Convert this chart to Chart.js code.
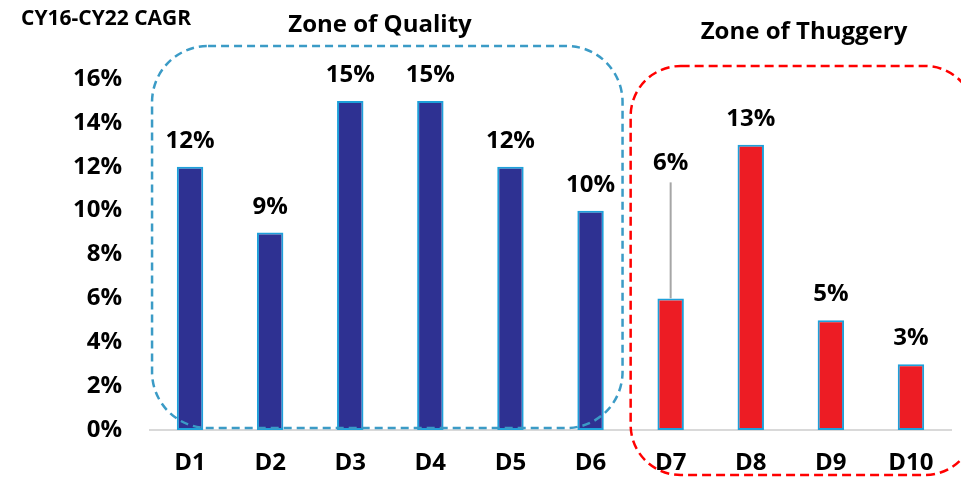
<!DOCTYPE html>
<html>
<head>
<meta charset="utf-8">
<script src="https://cdn.jsdelivr.net/npm/chart.js@4.4.0/dist/chart.umd.min.js"></script>
<style>
  body { margin: 0; background: #fff; }
  #wrap { width: 961px; height: 480px; }
</style>
</head>
<body>
<div id="wrap"><canvas id="cagrChart" width="961" height="480"></canvas></div>
<script>
// deciles and their CY16-CY22 CAGR (%)
const categories = ['D1', 'D2', 'D3', 'D4', 'D5', 'D6', 'D7', 'D8', 'D9', 'D10'];
const cagr = [12, 9, 15, 15, 12, 10, 6, 13, 5, 3];
const zones = ['quality', 'quality', 'quality', 'quality', 'quality', 'quality',
               'thuggery', 'thuggery', 'thuggery', 'thuggery'];
const yMax = 16;
const yStep = 2;

const FONT = '"Open Sans", "Noto Sans", sans-serif';
const zoneFill = { quality: '#2E3192', thuggery: '#ED1C24' };

// value labels on top of bars (D7 label is lifted with a leader line)
const valueLabels = {
    id: 'valueLabels',
    afterDatasetsDraw(chart) {
        const ctx = chart.ctx;
        const meta = chart.getDatasetMeta(0);
        ctx.save();
        ctx.font = 'bold 24px ' + FONT;
        ctx.fillStyle = '#000';
        ctx.textAlign = 'center';
        ctx.textBaseline = 'alphabetic';
        meta.data.forEach((bar, i) => {
            let y = bar.y - 19;
            if (i === 6) {
                y = bar.y - 128;
                ctx.strokeStyle = '#a6a6a6';
                ctx.lineWidth = 2;
                ctx.beginPath();
                ctx.moveTo(bar.x, y + 12);
                ctx.lineTo(bar.x, bar.y);
                ctx.stroke();
            }
            ctx.fillText(cagr[i] + '%', bar.x, y);
        });
        ctx.restore();
    }
};

function roundBox(ctx, x0, y0, x1, y1, r) {
    ctx.beginPath();
    ctx.moveTo(x0 + r, y0);
    ctx.arcTo(x1, y0, x1, y1, r);
    ctx.arcTo(x1, y1, x0, y1, r);
    ctx.arcTo(x0, y1, x0, y0, r);
    ctx.arcTo(x0, y0, x1, y0, r);
    ctx.closePath();
    ctx.stroke();
}

// dashed zone boxes and headings
const zoneBoxes = {
    id: 'zoneBoxes',
    afterDraw(chart) {
        const ctx = chart.ctx;
        const x = chart.scales.x, y = chart.scales.y;
        ctx.save();
        ctx.lineWidth = 2.5;

        ctx.strokeStyle = '#3B9BC6';
        ctx.setLineDash([8, 5]);
        roundBox(ctx, x.getPixelForValue(0) - 38, y.getPixelForValue(yMax) - 33,
                 x.getPixelForValue(5) + 32, y.getPixelForValue(0) - 2, 56);

        ctx.strokeStyle = '#FF0000';
        ctx.setLineDash([9, 5]);
        roundBox(ctx, x.getPixelForValue(6) - 40, y.getPixelForValue(yMax) - 13,
                 x.getPixelForValue(9) + 64, y.getPixelForValue(0) + 45, 50);

        ctx.setLineDash([]);
        ctx.fillStyle = '#000';
        ctx.textBaseline = 'alphabetic';
        ctx.textAlign = 'left';
        ctx.font = 'bold 21px ' + FONT;
        ctx.fillText('CY16-CY22 CAGR', 21, 25);
        ctx.textAlign = 'center';
        ctx.font = 'bold 24px ' + FONT;
        ctx.fillText('Zone of Quality', 380, 32);
        ctx.fillText('Zone of Thuggery', 804, 39);
        ctx.restore();
    }
};

new Chart(document.getElementById('cagrChart'), {
    type: 'bar',
    data: {
        labels: categories,
        datasets: [{
            data: cagr,
            backgroundColor: zones.map(z => zoneFill[z]),
            borderColor: '#1EA0DA',
            borderWidth: 2,
            borderSkipped: false,
            barPercentage: 0.33,
            categoryPercentage: 1
        }]
    },
    options: {
        responsive: false,
        animation: false,
        layout: { padding: { top: 79, right: 10, left: 0, bottom: 0 } },
        plugins: {
            legend: { display: false },
            title: { display: false },
            tooltip: { enabled: false }
        },
        scales: {
            x: {
                grid: { display: false, drawTicks: false },
                border: { display: true, color: '#d9d9d9', width: 2 },
                ticks: {
                    color: '#000',
                    font: { family: FONT, size: 24, weight: 'bold' },
                    padding: 19
                },
                afterFit(s) { s.height = 50; }
            },
            y: {
                min: 0,
                max: yMax,
                grid: { display: false, drawTicks: false },
                border: { display: false },
                ticks: {
                    stepSize: yStep,
                    color: '#000',
                    font: { family: FONT, size: 24, weight: 'bold' },
                    padding: 28,
                    callback: v => v + '%'
                },
                afterFit(s) { s.width = 150; }
            }
        }
    },
    plugins: [valueLabels, zoneBoxes]
});
</script>
</body>
</html>
